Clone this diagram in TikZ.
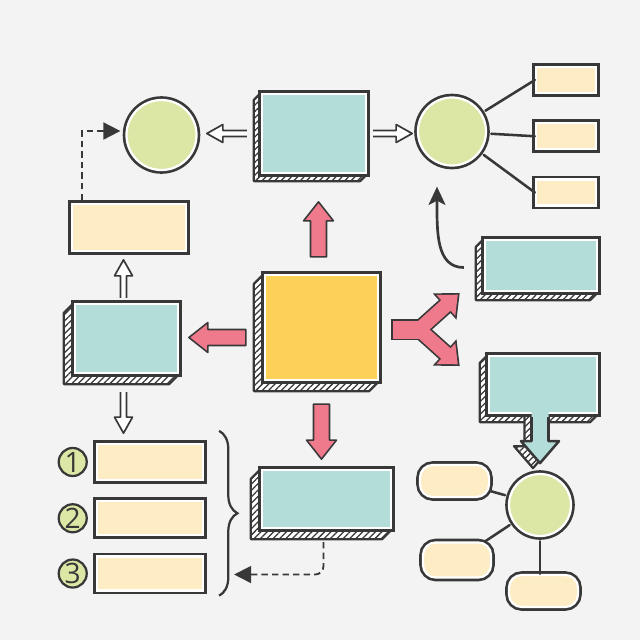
\documentclass[tikz,border=0pt]{standalone}
\usepackage{fontspec}
\usepackage{xcolor}
\usepackage{tikz}
\usetikzlibrary{arrows.meta, positioning, calc, patterns.meta, decorations.pathreplacing, backgrounds}
\newfontfamily\digitfont{Open Sans}
\definecolor{PaperGray}{HTML}{F3F3F3}
\definecolor{Ink}{HTML}{383838}
\definecolor{SeaTeal}{HTML}{B3DDD8}
\definecolor{SunYellow}{HTML}{FCD158}
\definecolor{Cream}{HTML}{FDECC4}
\definecolor{Lime}{HTML}{DCE7A5}
\definecolor{Rose}{HTML}{EE7A8C}

% hatched depth on the left and bottom of a panel
\newcommand{\sidewall}[2]{%
  \begin{scope}[on background layer]
    \filldraw[wall] (#1.north west) -- ++(-#2,#2) -- ($(#1.south west)+(-#2,#2)$)
      -- ($(#1.south east)+(-#2,#2)$) -- (#1.south east) -- (#1.south west) -- cycle;
  \end{scope}}
% pieces of the split arrow
\newcommand{\forkparts}[1]{%
  \path[#1] (0,-9) rectangle (34,9);
  \path[#1, rotate around={42:(26,0)}] (26,-7) -- (62,-7) -- (62,-14) -- (78,0) -- (62,14) -- (62,7) -- (26,7) -- cycle;
  \path[#1, rotate around={-42:(26,0)}] (26,-7) -- (62,-7) -- (62,-14) -- (78,0) -- (62,14) -- (62,7) -- (26,7) -- cycle;}

\begin{document}
\begin{tikzpicture}[x=0.025cm, y=-0.025cm,
    ringed/.style={
        preaction={draw=Ink, line width=5.4pt}, draw=white, line width=1.6pt,
        fill=#1, inner sep=0pt
    },
    panel/.style={ringed=#1, rectangle},
    card/.style={ringed=Cream, rectangle},
    pill/.style={ringed=Cream, rectangle, rounded corners=9pt},
    ring/.style={ringed=Lime, circle},
    badge/.style={
        circle, draw=Ink, line width=1.6pt, fill=Lime, minimum size=0.7cm, inner sep=0pt,
        text=Ink, font=\digitfont\fontsize{20}{20}\selectfont
    },
    wall/.style={
        draw=Ink, line width=1.6pt, line join=round, preaction={fill=white},
        pattern={Lines[angle=45, distance=3.2pt, line width=0.9pt]}, pattern color=Ink
    },
    link/.style={draw=Ink, line width=1.8pt, line cap=round, shorten <=3pt},
    dashlink/.style={draw=Ink, line width=1.3pt, dash pattern=on 4.5pt off 3pt, -{Triangle[length=12pt, width=12pt]}},
    bendarrow/.style={draw=Ink, line width=1.9pt, -{Stealth[length=13pt, width=12pt, inset=3pt]}},
    rosearrow/.style={fill=Rose, draw=Ink, line width=1.1pt, line join=round},
    hollowarrow/.style={fill=white, draw=Ink, line width=1.2pt, line join=round},
    bracket/.style={draw=Ink, line width=1.6pt, decorate, decoration={brace, amplitude=13pt}},
    fatarrow/.pic={\filldraw[rosearrow] (0,-8) -- (#1-19,-8) -- (#1-19,-15) -- (#1,0) -- (#1-19,15) -- (#1-19,8) -- (0,8) -- cycle;},
    thinarrow/.pic={\filldraw[hollowarrow] (0,-3) -- (#1-16,-3) -- (#1-16,-9) -- (#1,0) -- (#1-16,9) -- (#1-16,3) -- (0,3);},
    forkarrow/.pic={\forkparts{draw=Ink, line width=2.4pt}\forkparts{fill=Rose}}
]

    % Paper
    \begin{scope}[on background layer]
        \fill[PaperGray] (0,0) rectangle (640,640);
    \end{scope}
    \useasboundingbox (0,0) rectangle (640,640);

    % Panels
    \node[panel=SunYellow, minimum width=2.825cm, minimum height=2.625cm] (core) at (321.5,327.5) {};
    \node[panel=SeaTeal, minimum width=2.6cm, minimum height=1.975cm] (upbox) at (314,133.5) {};
    \node[panel=SeaTeal, minimum width=2.575cm, minimum height=1.725cm] (leftbox) at (126.5,338.5) {};
    \node[panel=SeaTeal, minimum width=3.225cm, minimum height=1.45cm] (downbox) at (326.5,499) {};
    \node[panel=SeaTeal, minimum width=2.8cm, minimum height=1.275cm] (sidebox) at (541,265.5) {};
    \node[panel=SeaTeal, minimum width=2.7cm, minimum height=1.425cm] (callbox) at (543,384.5) {};
    \sidewall{core}{10}
    \sidewall{upbox}{7}
    \sidewall{leftbox}{10}
    \sidewall{downbox}{10}
    \sidewall{sidebox}{8}
    \sidewall{callbox}{8}

    % Cards
    \node[card, minimum width=2.85cm, minimum height=1.175cm] (note) at (129,227.5) {};
    \node[card, minimum width=1.5cm, minimum height=0.65cm] (tag1) at (566,80) {};
    \node[card, minimum width=1.5cm, minimum height=0.65cm, below=0.7cm of tag1] (tag2) {};
    \node[card, minimum width=1.5cm, minimum height=0.65cm, below=0.7cm of tag2] (tag3) {};

    % Numbered list
    \node[card, minimum width=2.65cm, minimum height=0.9cm] (item1) at (150,462) {};
    \node[card, minimum width=2.65cm, minimum height=0.85cm, below=0.475cm of item1] (item2) {};
    \node[card, minimum width=2.65cm, minimum height=0.85cm, below=0.475cm of item2] (item3) {};
    \node[badge, left=0.2cm of item1] (num1) {1};
    \node[badge, left=0.2cm of item2] (num2) {2};
    \node[badge, left=0.2cm of item3] (num3) {3};

    % Circles
    \node[ring, minimum size=1.75cm] (leftring) at (161.5,135) {};
    \node[ring, minimum size=1.7cm] (rightring) at (452,131.5) {};
    \node[ring, minimum size=1.55cm] (hub) at (540,505) {};

    % Pills
    \node[pill, minimum width=1.725cm, minimum height=0.8cm] (pill1) at (454.5,481) {};
    \node[pill, minimum width=1.7cm, minimum height=0.875cm] (pill2) at (457,560) {};
    \node[pill, minimum width=1.725cm, minimum height=0.8cm] (pill3) at (543.5,591) {};

    % Callout stem
    \coordinate (stem) at (callbox.south -| hub.north);
    \coordinate (stemback) at ($(stem)+(-7,5)$);
    \begin{scope}[on background layer]
        \filldraw[wall] (stemback) ++(-8.5,-6) -- ++(0,33) -- ++(-10.5,0) -- ++(19,22) -- ++(19,-22) -- ++(-10.5,0) -- ++(0,-33) -- cycle;
    \end{scope}
    \fill[SeaTeal] (stem) ++(-8.5,-6) -- ++(0,33) -- ++(-10.5,0) -- ++(19,22) -- ++(19,-22) -- ++(-10.5,0) -- ++(0,-33) -- cycle;
    \draw[Ink, line width=1.8pt, line join=round] (stem) ++(-8.5,3) -- ++(0,24) -- ++(-10.5,0) -- ++(19,22) -- ++(19,-22) -- ++(-10.5,0) -- ++(0,-24);

    % Links
    \draw[link] (rightring) -- (tag1.west);
    \draw[link] (rightring) -- (tag2.west);
    \draw[link] (rightring) -- (tag3.west);
    \draw[link] (hub) -- (pill1);
    \draw[link] (hub) -- (pill2);
    \draw[link] (hub.south) -- (hub.south |- pill3.north);

    % Pink arrows
    \pic[rotate=90] at ($(core.north)+(-3,-17)$) {fatarrow=55};
    \pic[rotate=180] at ($(core.west)+(-18,10)$) {fatarrow=57};
    \pic[rotate=-90] at ($(core.south)+(0,23)$) {fatarrow=55};
    \pic at ($(core.east)+(14,2)$) {forkarrow};

    % Hollow arrows
    \pic[rotate=180] at ($(upbox.west)+(-14,0)$) {thinarrow=40};
    \pic at ($(upbox.east)+(6,0)$) {thinarrow=39};
    \pic[rotate=90] at ($(leftbox.north)+(-3,-5)$) {thinarrow=38};
    \pic[rotate=-90] at ($(leftbox.south)+(-3,18)$) {thinarrow=41};

    % Dashed and curved arrows
    \coordinate (listref) at ($(item3.east)+(30,1)$);
    \draw[dashlink] ($(note.north west)+(11,-3)$) |- ($(leftring.west)+(-5,-4)$);
    \draw[dashlink, rounded corners=6pt] ($(downbox.south)+(-3,13)$) |- (listref);
    \draw[bendarrow] ($(sidebox.west)+(-20,2)$) .. controls +(-28,0) and +(0,45) .. ($(rightring.south)+(-15,20)$);

    % Brace
    \draw[bracket] ($(item1.north east)+(15,-12)$) -- ($(item3.south east)+(15,4)$);

\end{tikzpicture}
\end{document}
